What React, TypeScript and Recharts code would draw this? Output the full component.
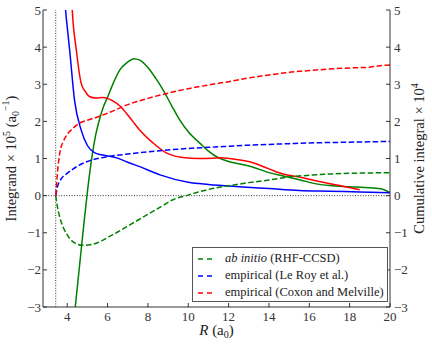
import React from 'react';
import { ComposedChart, Line, XAxis, YAxis, ReferenceLine, Legend, Label } from 'recharts';

const FONT = '"Liberation Serif", "Times New Roman", "DejaVu Serif", serif';
const AXIS = '#333';

const xTicks = [4, 6, 8, 10, 12, 14, 16, 18, 20];
const yTicks = [-3, -2, -1, 0, 1, 2, 3, 4, 5];
const xDomain: [number, number] = [2.8, 20];
const yDomain: [number, number] = [-3, 5];
const cutoffR = 3.43;

// Integrand (solid) — ab initio
const abInitioIntR = [4.3, 4.4, 4.6, 4.8, 5.0, 5.2, 5.4, 5.6, 5.8, 6.0, 6.3, 6.6, 7.0, 7.3, 7.6, 8.0, 8.4, 8.75, 9.2, 9.6, 10.0, 10.6, 11.0, 11.5, 12.0, 12.5, 13, 14, 14.7, 15.5, 16.4, 17, 18, 19, 19.6, 20];
const abInitioIntV = [-3.55, -3.0, -1.95, -0.9, 0.1, 0.95, 1.6, 2.05, 2.4, 2.65, 3.05, 3.38, 3.6, 3.69, 3.65, 3.45, 3.15, 2.85, 2.4, 2.02, 1.72, 1.4, 1.2, 1.02, 0.92, 0.86, 0.8, 0.62, 0.53, 0.43, 0.31, 0.27, 0.24, 0.21, 0.18, 0.08];

// Integrand — Le Roy
const leRoyIntR = [3.8, 3.92, 4.0, 4.12, 4.36, 4.69, 5.0, 5.35, 5.7, 6.0, 6.5, 7.0, 7.6, 8.6, 10, 11, 12.5, 14, 15.5, 17, 18.5, 20];
const leRoyIntV = [6.3, 5.0, 4.55, 3.93, 2.58, 1.77, 1.35, 1.16, 1.1, 1.07, 1.01, 0.9, 0.78, 0.56, 0.36, 0.3, 0.24, 0.19, 0.14, 0.12, 0.1, 0.08];

// Integrand — Coxon and Melville
const coxonIntR = [4.18, 4.25, 4.45, 4.69, 4.9, 5.1, 5.4, 5.77, 6.0, 6.26, 6.6, 6.93, 7.25, 7.59, 8.25, 8.91, 9.3, 9.74, 10.5, 11.23, 11.6, 12.56, 13, 14, 14.7, 15.5, 16.5, 17.5, 18.5];
const coxonIntV = [5.8, 5.0, 3.93, 3.03, 2.8, 2.67, 2.63, 2.64, 2.62, 2.55, 2.42, 2.22, 2.0, 1.77, 1.42, 1.15, 1.07, 1.03, 1.0, 1.01, 1.02, 0.96, 0.92, 0.72, 0.58, 0.5, 0.38, 0.27, 0.16];

// Cumulative integral (dashed)
const abInitioCumR = [3.43, 3.5, 3.62, 3.8, 3.95, 4.28, 4.77, 5.27, 5.7, 6.1, 6.6, 7.1, 7.6, 8.1, 8.7, 9.24, 9.9, 10.5, 11.2, 12.4, 13, 14, 15, 16, 17, 18, 19, 20];
const abInitioCumV = [0, -0.25, -0.56, -0.85, -1.01, -1.24, -1.34, -1.31, -1.22, -1.1, -0.95, -0.79, -0.63, -0.47, -0.28, -0.11, 0, 0.1, 0.19, 0.3, 0.35, 0.42, 0.5, 0.55, 0.58, 0.6, 0.61, 0.62];

const leRoyCumR = [3.43, 3.5, 3.7, 4.0, 4.3, 4.6, 5.0, 5.5, 6, 7, 8, 9, 10, 11, 12, 13, 14, 15, 16, 17, 18, 19, 20];
const leRoyCumV = [0, 0.2, 0.45, 0.6, 0.72, 0.82, 0.92, 1.0, 1.05, 1.12, 1.18, 1.23, 1.27, 1.3, 1.33, 1.36, 1.38, 1.4, 1.42, 1.43, 1.44, 1.45, 1.46];

const coxonCumR = [3.43, 3.47, 3.55, 3.65, 3.8, 4.0, 4.3, 4.6, 5.0, 5.5, 6.0, 7.0, 8.0, 9.0, 10, 11, 12, 13, 14, 15, 16, 17, 18, 19, 19.5, 20];
const coxonCumV = [0, 0.3, 0.8, 1.2, 1.45, 1.65, 1.82, 1.95, 2.03, 2.12, 2.22, 2.45, 2.62, 2.76, 2.88, 2.98, 3.07, 3.17, 3.25, 3.32, 3.37, 3.41, 3.44, 3.46, 3.5, 3.52];

const legendNames = ['ab initio (RHF-CCSD)', 'empirical (Le Roy et al.)', 'empirical (Coxon and Melville)'];

const zip = (rs: number[], vs: number[]) => rs.map((r, i) => ({ r, v: vs[i] }));

const GREEN = '#008000';
const BLUE = '#0000ff';
const RED = '#ff0000';

const fmt = (v: number) => (v < 0 ? '\u2212' + Math.abs(v) : String(v));

const TL = 4;

function BottomTick(props: any) {
  const { x, y, payload } = props;
  return (
    <g>
      <line x1={x} x2={x} y1={y} y2={y - TL} stroke={AXIS} strokeWidth={1} />
      <text x={x} y={y + 13.5} textAnchor="middle" fontSize={13} fontFamily={FONT} fill="#333">{fmt(payload.value)}</text>
    </g>
  );
}
function TopTick(props: any) {
  const { x, y } = props;
  return <line x1={x} x2={x} y1={y} y2={y + TL} stroke={AXIS} strokeWidth={1} />;
}
function LeftTick(props: any) {
  const { x, y, payload } = props;
  return (
    <g>
      <line x1={x} x2={x + TL} y1={y} y2={y} stroke={AXIS} strokeWidth={1} />
      <text x={x - 2} y={y + 4.5} textAnchor="end" fontSize={13} fontFamily={FONT} fill="#333">{fmt(payload.value)}</text>
    </g>
  );
}
function RightTick(props: any) {
  const { x, y, payload } = props;
  return (
    <g>
      <line x1={x} x2={x - TL} y1={y} y2={y} stroke={AXIS} strokeWidth={1} />
      <text x={x + 4} y={y + 4.5} textAnchor="start" fontSize={13} fontFamily={FONT} fill="#333">{fmt(payload.value)}</text>
    </g>
  );
}

function XLabel(props: any) {
  const vb = props.viewBox || { x: 0, y: 0, width: 0 };
  return (
    <text x={vb.x + vb.width / 2} y={vb.y + 28} textAnchor="middle" fontSize={15} fontFamily={FONT} fill="#222">
      <tspan fontStyle="italic">R</tspan>
      <tspan> (a</tspan>
      <tspan fontSize={10} dy={3}>0</tspan>
      <tspan dy={-3}>)</tspan>
    </text>
  );
}

function LeftLabel(props: any) {
  const vb = props.viewBox || { x: 0, y: 0, height: 0 };
  const cx = 16;
  const cy = vb.y + vb.height / 2;
  return (
    <text transform={`translate(${cx},${cy}) rotate(-90)`} textAnchor="middle" fontSize={14.5} fontFamily={FONT} fill="#222">
      <tspan>Integrand × 10</tspan>
      <tspan fontSize={10} dy={-6}>5</tspan>
      <tspan dy={6}> (a</tspan>
      <tspan fontSize={10} dy={3}>0</tspan>
      <tspan fontSize={10} dy={-10}>{'\u2212'}1</tspan>
      <tspan dy={7}>)</tspan>
    </text>
  );
}

function RightLabel(props: any) {
  const vb = props.viewBox || { x: 0, y: 0, height: 0 };
  const cx = 424;
  const cy = vb.y + vb.height / 2;
  return (
    <text transform={`translate(${cx},${cy}) rotate(-90)`} textAnchor="middle" fontSize={14.5} fontFamily={FONT} fill="#222">
      <tspan>Cumulative integral × 10</tspan>
      <tspan fontSize={10} dy={-6}>4</tspan>
    </text>
  );
}

function LegendBox(props: any) {
  const all = (props.payload || []) as any[];
  const items = legendNames
    .map((n) => all.find((p: any) => String(p.value) === n))
    .filter(Boolean) as any[];
  return (
    <div
      style={{
        border: '1.3px solid #555',
        background: '#fff',
        width: 196,
        height: 55,
        boxSizing: 'border-box',
        padding: '2px 0 0 5px',
        fontFamily: FONT,
        fontSize: 12.5,
        color: '#222',
      }}
    >
      {items.map((it: any, i: number) => {
        const name = String(it.value);
        const italic = name.startsWith('ab initio');
        return (
          <div key={i} style={{ display: 'flex', alignItems: 'center', height: 17, whiteSpace: 'nowrap' }}>
            <svg width={16} height={4} style={{ flex: 'none' }}>
              <line x1={0} x2={16} y1={2} y2={2} stroke={it.color} strokeWidth={1.5} strokeDasharray="5 4" />
            </svg>
            <span style={{ marginLeft: 11 }}>
              {italic ? (
                <>
                  <i>ab initio</i>
                  {name.slice('ab initio'.length)}
                </>
              ) : (
                name
              )}
            </span>
          </div>
        );
      })}
    </div>
  );
}

export default function App() {
  return (
    <div style={{ position: 'absolute', left: 0, top: 0, width: 432, height: 345, background: '#fff', fontFamily: FONT }}>
      <ComposedChart width={432} height={345} margin={{ top: 10, right: 12, bottom: 18, left: 13 }}>
        <XAxis
          xAxisId="bottom"
          type="number"
          dataKey="r"
          domain={xDomain}
          ticks={xTicks}
          allowDataOverflow
          orientation="bottom"
          height={20}
          tickSize={0}
          tickMargin={0}
          tickLine={false}
          axisLine={{ stroke: AXIS, strokeWidth: 1 }}
          tick={<BottomTick />}
          interval={0}
        >
          <Label content={<XLabel />} />
        </XAxis>
        <XAxis
          xAxisId="top"
          type="number"
          dataKey="r"
          domain={xDomain}
          ticks={xTicks}
          allowDataOverflow
          orientation="top"
          height={0}
          tickSize={0}
          tickMargin={0}
          tickLine={false}
          axisLine={{ stroke: AXIS, strokeWidth: 1 }}
          tick={<TopTick />}
          interval={0}
        />
        <YAxis
          yAxisId="left"
          type="number"
          domain={yDomain}
          ticks={yTicks}
          allowDataOverflow
          orientation="left"
          width={30}
          tickSize={0}
          tickMargin={0}
          tickLine={false}
          axisLine={{ stroke: AXIS, strokeWidth: 1 }}
          tick={<LeftTick />}
          interval={0}
        >
          <Label content={<LeftLabel />} />
        </YAxis>
        <YAxis
          yAxisId="right"
          type="number"
          domain={yDomain}
          ticks={yTicks}
          allowDataOverflow
          orientation="right"
          width={30}
          tickSize={0}
          tickMargin={0}
          tickLine={false}
          axisLine={{ stroke: AXIS, strokeWidth: 1 }}
          tick={<RightTick />}
          interval={0}
        >
          <Label content={<RightLabel />} />
        </YAxis>

        <ReferenceLine xAxisId="bottom" yAxisId="left" y={0} stroke="#000" strokeWidth={0.8} strokeDasharray="1 1.6" />
        <ReferenceLine xAxisId="bottom" yAxisId="left" x={cutoffR} stroke="#000" strokeWidth={0.8} strokeDasharray="1 1.6" />

        <Line xAxisId="bottom" yAxisId="left" data={zip(abInitioIntR, abInitioIntV)} dataKey="v" type="monotone" stroke={GREEN} strokeWidth={1.5} dot={false} isAnimationActive={false} legendType="none" name="ab initio integrand" />
        <Line xAxisId="bottom" yAxisId="left" data={zip(leRoyIntR, leRoyIntV)} dataKey="v" type="monotone" stroke={BLUE} strokeWidth={1.5} dot={false} isAnimationActive={false} legendType="none" name="Le Roy integrand" />
        <Line xAxisId="bottom" yAxisId="left" data={zip(coxonIntR, coxonIntV)} dataKey="v" type="monotone" stroke={RED} strokeWidth={1.5} dot={false} isAnimationActive={false} legendType="none" name="Coxon integrand" />

        <Line xAxisId="top" yAxisId="right" data={zip(abInitioCumR, abInitioCumV)} dataKey="v" type="monotone" stroke={GREEN} strokeWidth={1.5} strokeDasharray="5.5 2.5" dot={false} isAnimationActive={false} name={legendNames[0]} />
        <Line xAxisId="top" yAxisId="right" data={zip(leRoyCumR, leRoyCumV)} dataKey="v" type="monotone" stroke={BLUE} strokeWidth={1.5} strokeDasharray="5.5 2.5" dot={false} isAnimationActive={false} name={legendNames[1]} />
        <Line xAxisId="top" yAxisId="right" data={zip(coxonCumR, coxonCumV)} dataKey="v" type="monotone" stroke={RED} strokeWidth={1.5} strokeDasharray="5.5 2.5" dot={false} isAnimationActive={false} name={legendNames[2]} />

        <Legend
          layout="vertical"
          align="center"
          verticalAlign="middle"
          content={<LegendBox />}
          wrapperStyle={{ left: 192, top: 247, width: 196, height: 55 }}
        />
      </ComposedChart>
    </div>
  );
}
